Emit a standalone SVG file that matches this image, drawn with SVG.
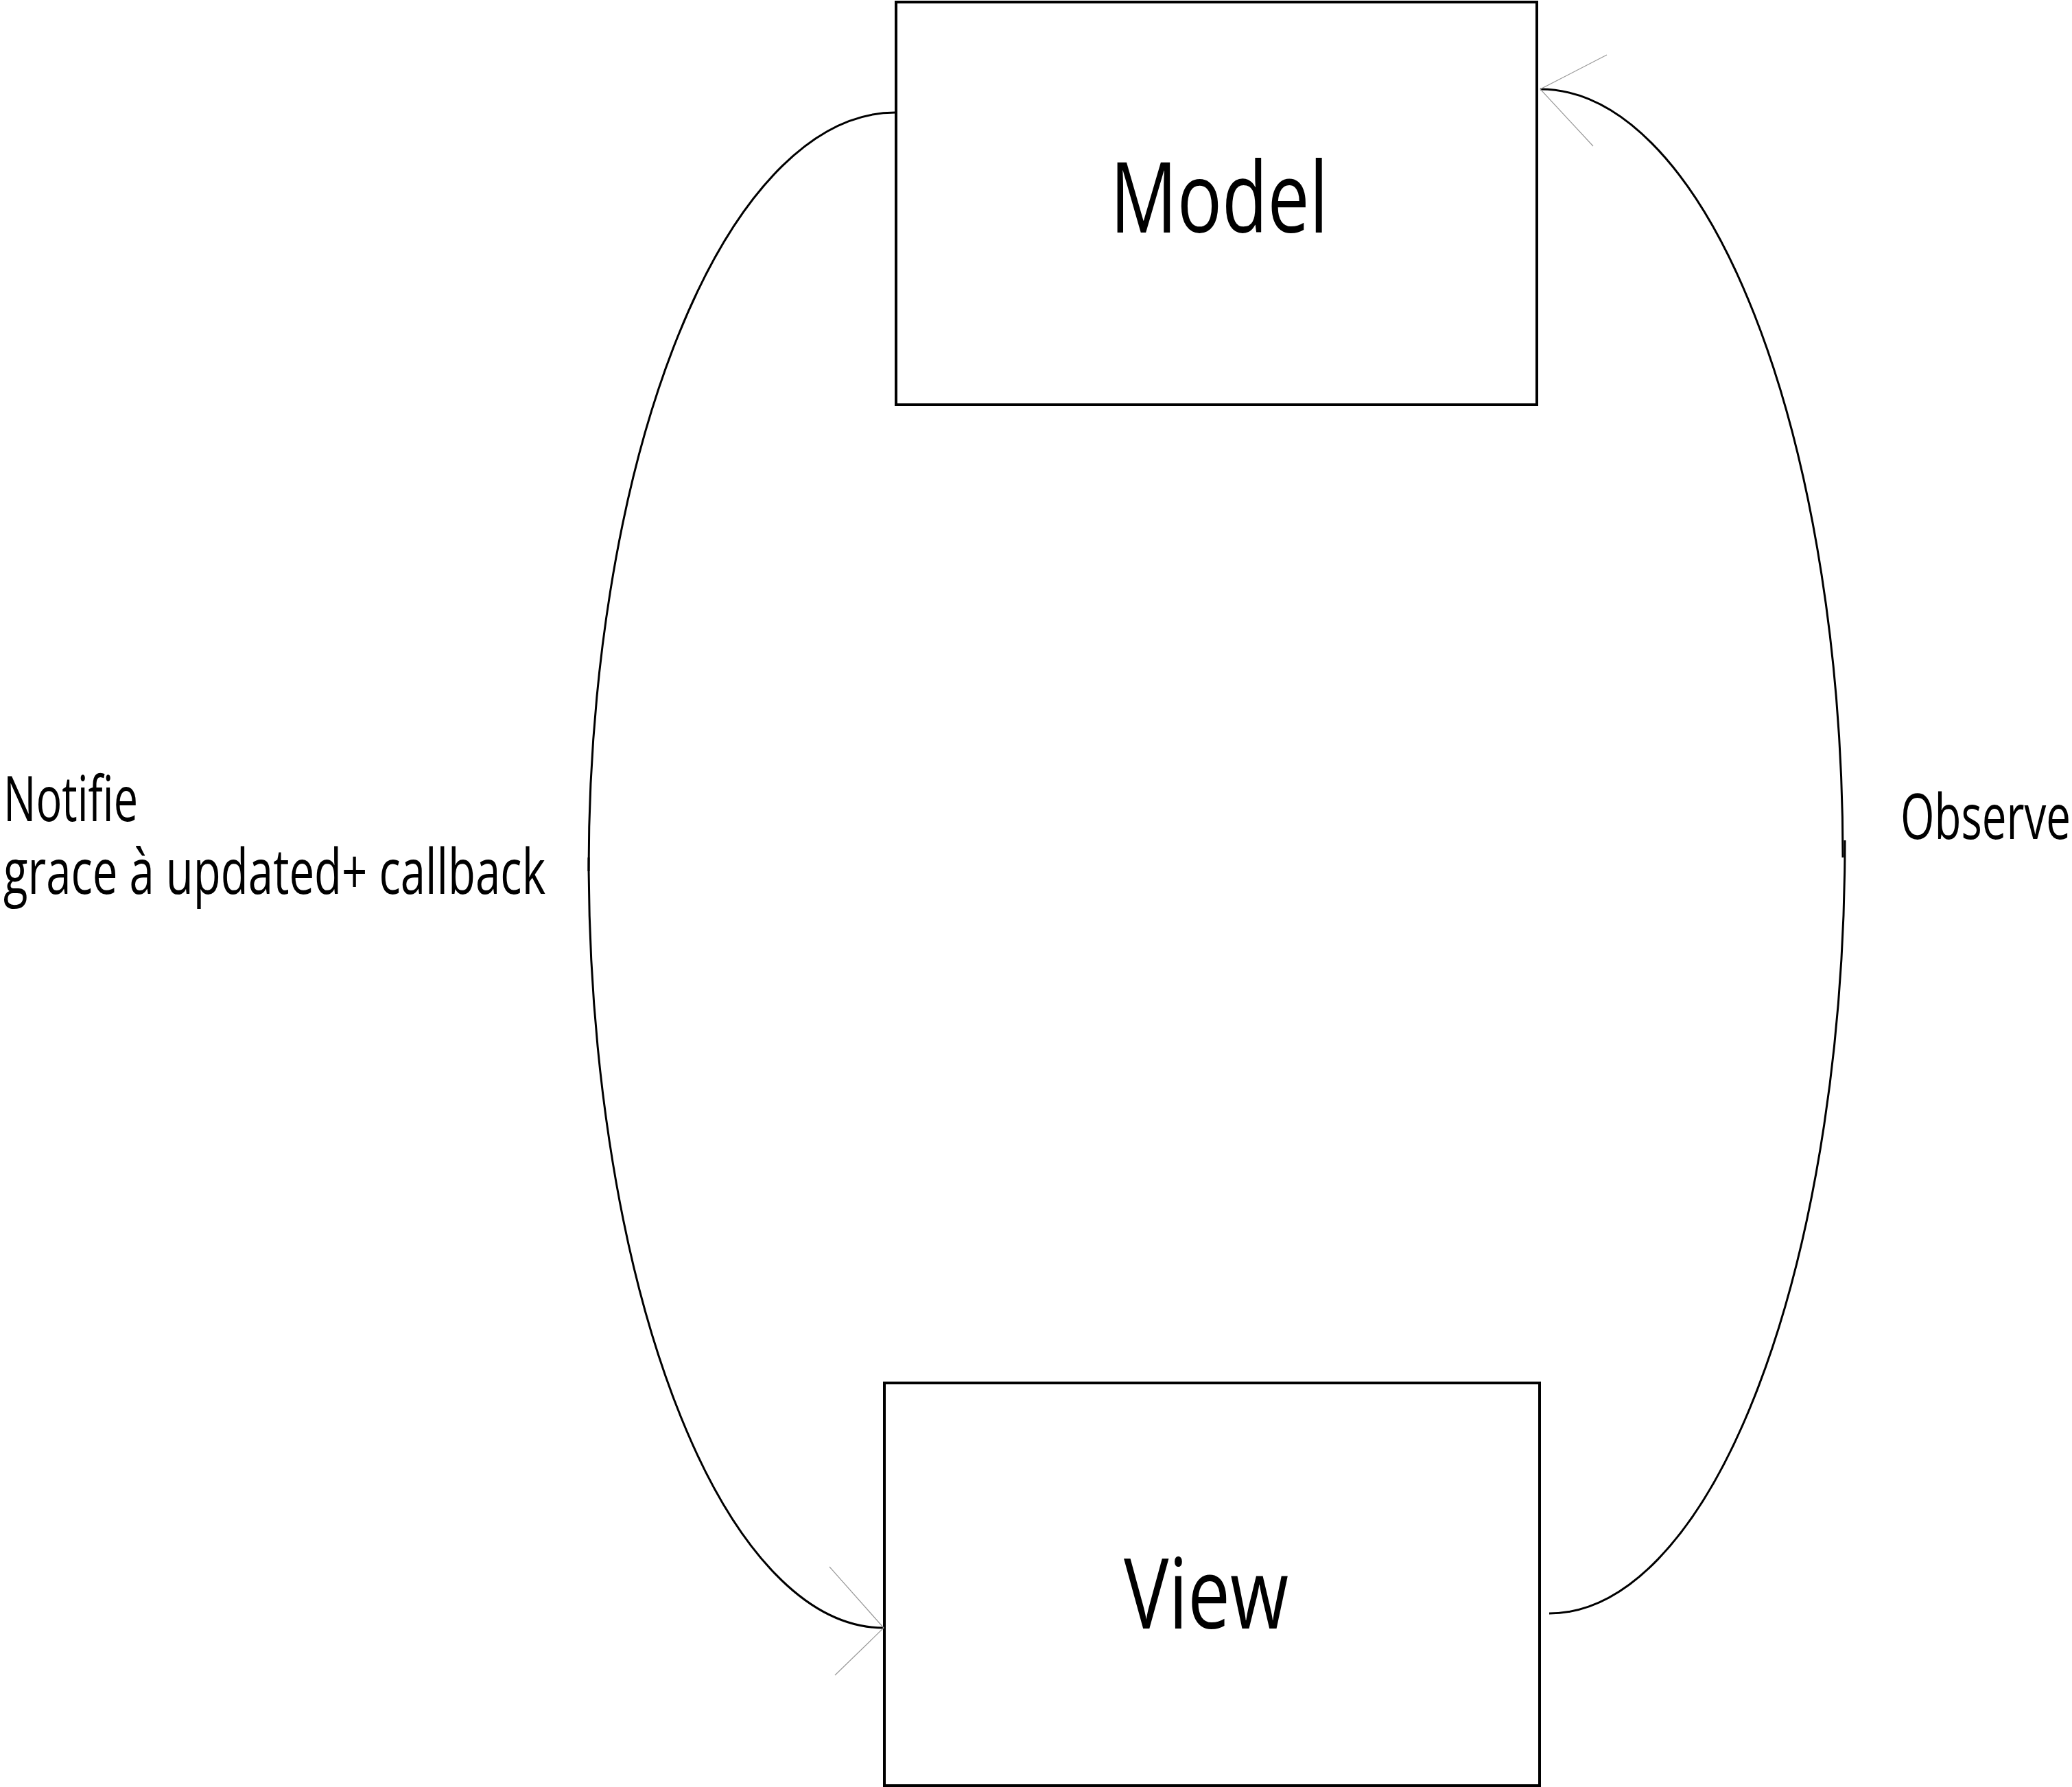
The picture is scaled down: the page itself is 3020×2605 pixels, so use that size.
<svg xmlns="http://www.w3.org/2000/svg" width="3020" height="2605" viewBox="0 0 3020 2605">
<style>
.box{fill:#fff;stroke:#000;stroke-width:4}
.lbl{font-family:"Open Sans","Noto Sans","Liberation Sans",sans-serif;fill:#000}
.big{font-size:142px}
.small{font-size:91px}
.edge{fill:none;stroke:#000;stroke-width:3}
.head{fill:none;stroke:#999;stroke-width:1.2}
</style>
<rect width="3020" height="2605" fill="#fff"/>
<g id="model">
<rect class="box" x="1306" y="3" width="934" height="587"/>
<text class="lbl big" x="1618" y="339" textLength="318" lengthAdjust="spacingAndGlyphs">Model</text>
</g>
<g id="view">
<rect class="box" x="1289" y="2016" width="955" height="587"/>
<text class="lbl big" x="1638" y="2374" textLength="240" lengthAdjust="spacingAndGlyphs">View</text>
</g>
<g id="connectors">
<path class="edge" d="M1305,164 A447,1106 0 0 0 858,1270"/>
<path class="edge" d="M858,1250 A430,1123 0 0 0 1288,2373"/>
<polyline class="head" points="1209,2284 1288,2373 1217,2442"/>
<path class="edge" d="M2245,130 A441,1120 0 0 1 2686,1250"/>
<path class="edge" d="M2689,1225 A431,1127 0 0 1 2258,2352"/>
<polyline class="head" points="2342,80 2245,130 2322,213"/>
</g>
<g id="labels">
<text class="lbl small" x="5" y="1197" textLength="196" lengthAdjust="spacingAndGlyphs">Notifie</text>
<text class="lbl small" x="5" y="1303" textLength="790" lengthAdjust="spacingAndGlyphs">grace à updated+ callback</text>
<text class="lbl small" x="2770" y="1223" textLength="248" lengthAdjust="spacingAndGlyphs">Observe</text>
</g>
</svg>
